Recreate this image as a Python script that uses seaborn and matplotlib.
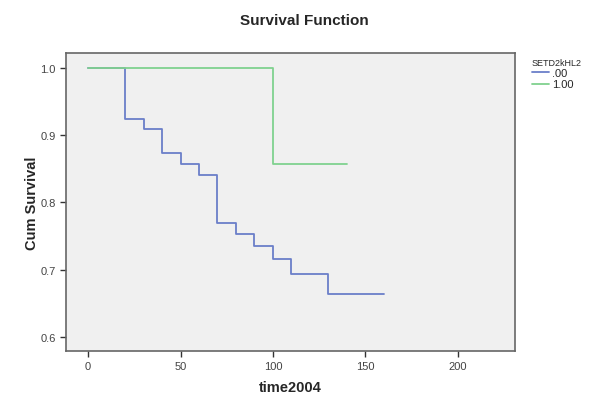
import numpy as np
import pandas as pd
import matplotlib
matplotlib.use('Agg')
import matplotlib.pyplot as plt
from matplotlib.lines import Line2D
import seaborn as sns

# step points of the Kaplan-Meier curves
time_00 = [0, 20, 30, 40, 50, 60, 70, 80, 90, 100, 110, 130, 160]
surv_00 = [1.0, 0.924, 0.909, 0.874, 0.857, 0.840, 0.770, 0.753, 0.735, 0.716, 0.694, 0.664, 0.664]
time_100 = [0, 100, 140]
surv_100 = [1.0, 0.857, 0.857]
groups = ['.00', '1.00']
colors = ['#6b7fc9', '#80d18f']

df = pd.concat([
    pd.DataFrame({'time2004': time_00, 'Cum Survival': surv_00, 'SETD2kHL2': groups[0]}),
    pd.DataFrame({'time2004': time_100, 'Cum Survival': surv_100, 'SETD2kHL2': groups[1]}),
])

sns.set_style('white')
plt.rcParams['font.family'] = ['Liberation Sans', 'DejaVu Sans']

fig = plt.figure(figsize=(6, 4.1), dpi=100)
ax = fig.add_axes([0.11, 0.1415, 0.748, 0.7265])
ax.set_facecolor('#f0f0f0')

sns.lineplot(data=df, x='time2004', y='Cum Survival', hue='SETD2kHL2',
             palette=dict(zip(groups, colors)), drawstyle='steps-post',
             estimator=None, linewidth=1.3, legend=False, ax=ax)

ax.set_xlim(-12, 231)
ax.set_ylim(0.579, 1.022)
ax.set_xticks([0, 50, 100, 150, 200])
ax.set_yticks([0.6, 0.7, 0.8, 0.9, 1.0])
ax.set_yticklabels(['0.6', '0.7', '0.8', '0.9', '1.0'])
ax.tick_params(axis='both', direction='out', length=4, width=1, color='#333333',
               labelsize=8, labelcolor='#444444', bottom=True, left=True)
for s in ax.spines.values():
    s.set_color('#666666')
    s.set_linewidth(1.2)

ax.set_xlabel('time2004', fontsize=10.5, fontweight='bold', labelpad=6)
ax.set_ylabel('Cum Survival', fontsize=10.5, fontweight='bold', labelpad=1)
fig.text(0.508, 0.948, 'Survival Function', ha='center', va='center',
         fontsize=11, fontweight='bold')

handles = [Line2D([], [], color=c, lw=1.3) for c in colors]
leg = fig.legend(handles, groups, title='SETD2kHL2', loc='upper left',
                 bbox_to_anchor=(0.87, 0.88), frameon=False, fontsize=8,
                 title_fontsize=6.5, handlelength=1.5, handletextpad=0.3,
                 labelspacing=0.1, alignment='left')

fig.savefig('out.png', dpi=100)
